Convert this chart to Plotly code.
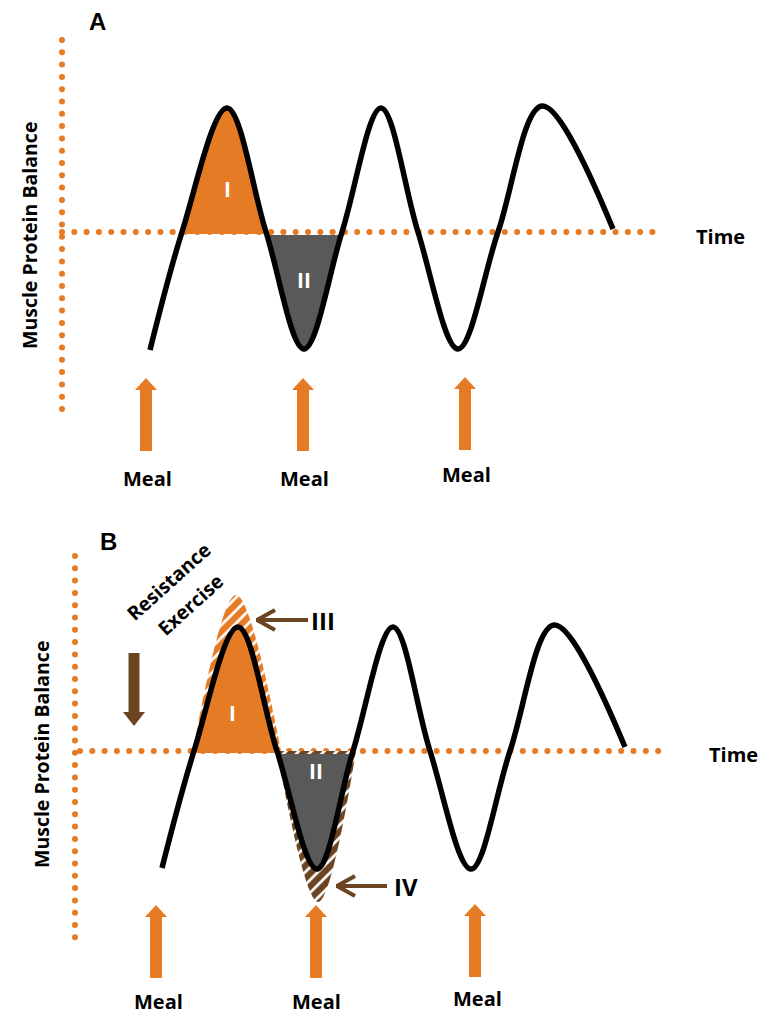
import numpy as np
import plotly.graph_objects as go

# ---------------- Data (diagram units = pixels) ----------------
# Panel A: oscillating muscle protein balance (start, crossings, extrema, end)
a_curve_x = [150, 182, 227, 266, 304, 342, 381, 418, 458, 498, 542, 613]
a_curve_y = [350, 232, 108, 232, 349, 232, 108, 232, 349, 232, 106, 229]
a_baseline = 232

# Panel B: same curve
b_curve_x = [162, 194, 238, 277, 317, 353, 393, 430, 471, 510, 554, 625]
b_curve_y = [868, 751, 627, 751, 869, 751, 627, 751, 869, 751, 625, 747]
b_baseline = 751

# Panel B: amplified responses after resistance exercise (III above, IV below)
b_ex_peak_x = [193, 236, 281]
b_ex_peak_y = [751, 595, 751]
b_ex_trough_x = [277, 318, 356]
b_ex_trough_y = [751, 902, 751]

meal_labels = ["Meal", "Meal", "Meal"]
region_labels = ["I", "II"]
extra_labels = ["III", "IV"]
axis_label = "Muscle Protein Balance"
time_label = "Time"
panel_labels = ["A", "B"]
exercise_label = ["Resistance", "Exercise"]

# ---------------- Styles ----------------
ORANGE = "#E67B25"
GRAY = "#595959"
BROWN = "#6B4421"
BLACK = "#000000"
FONT = "Open Sans"

fig = go.Figure()


def dotted_h(y, x0, x1, step=12.3):
    xs = np.arange(x0, x1 + 0.1, step)
    fig.add_trace(go.Scatter(x=xs, y=np.full(len(xs), y), mode="markers",
                             marker=dict(size=6, color=ORANGE, line=dict(width=0)),
                             hoverinfo="skip"))


def dotted_v(x, y0, y1, step=12.3):
    ys = np.arange(y0, y1 + 0.1, step)
    fig.add_trace(go.Scatter(x=np.full(len(ys), x), y=ys, mode="markers",
                             marker=dict(size=6, color=ORANGE, line=dict(width=0)),
                             hoverinfo="skip"))


def region(xs, ys, color, pattern=None, close_offset=0):
    ys = list(ys)
    ys[0] += close_offset
    ys[-1] += close_offset
    kw = dict(x=list(xs), y=ys, mode="lines", line=dict(width=0, shape="spline"),
              fill="toself", hoverinfo="skip")
    if pattern is None:
        kw["fillcolor"] = color
    else:
        kw["fillcolor"] = "white"
        kw["fillpattern"] = dict(shape="/", fgcolor=color, bgcolor="white",
                                 fgopacity=1, size=9, solidity=0.7)
    fig.add_trace(go.Scatter(**kw))


def curve(xs, ys):
    fig.add_trace(go.Scatter(x=xs, y=ys, mode="lines",
                             line=dict(color=BLACK, width=5.5, shape="spline", smoothing=1),
                             hoverinfo="skip"))


def block_arrow(xc, y_tip, y_tail, color, shaft_w=12, head_w=22, head_len=12):
    d = 1 if y_tail > y_tip else -1
    yh = y_tip + d * head_len
    xs = [xc, xc + head_w / 2, xc + shaft_w / 2, xc + shaft_w / 2,
          xc - shaft_w / 2, xc - shaft_w / 2, xc - head_w / 2, xc]
    ys = [y_tip, yh, yh, y_tail, y_tail, yh, yh, y_tip]
    fig.add_trace(go.Scatter(x=xs, y=ys, mode="lines", line=dict(width=0),
                             fill="toself", fillcolor=color, hoverinfo="skip"))


def line_arrow(x_tail, x_tip, y, color):
    fig.add_trace(go.Scatter(x=[x_tail, x_tip], y=[y, y], mode="lines",
                             line=dict(color=color, width=4), hoverinfo="skip"))
    fig.add_trace(go.Scatter(x=[x_tip + 19, x_tip + 1, x_tip + 19],
                             y=[y - 10, y, y + 10], mode="lines",
                             line=dict(color=color, width=4), hoverinfo="skip"))


# ---------------- Panel A ----------------
dotted_v(62, 40, 420)
dotted_h(a_baseline, 62, 655)
region(a_curve_x[1:4], a_curve_y[1:4], ORANGE, close_offset=2)
region(a_curve_x[3:6], a_curve_y[3:6], GRAY, close_offset=3)
curve(a_curve_x, a_curve_y)

a_meal_x = [146, 303, 465]
a_meal_tip = [378, 378, 377]
a_meal_tail = [451, 451, 450]
for xc, yt, yb in zip(a_meal_x, a_meal_tip, a_meal_tail):
    block_arrow(xc, yt, yb, ORANGE)

# ---------------- Panel B ----------------
dotted_v(75, 556, 940)
dotted_h(b_baseline, 80, 663)
region(b_ex_peak_x, b_ex_peak_y, ORANGE, pattern=True)
region(b_ex_trough_x, b_ex_trough_y, BROWN, pattern=True)
region(b_curve_x[1:4], b_curve_y[1:4], ORANGE, close_offset=2)
region(b_curve_x[3:6], b_curve_y[3:6], GRAY, close_offset=3)
curve(b_curve_x, b_curve_y)

b_meal_x = [156, 316, 475]
b_meal_tip = [905, 905, 904]
b_meal_tail = [978, 978, 977]
for xc, yt, yb in zip(b_meal_x, b_meal_tip, b_meal_tail):
    block_arrow(xc, yt, yb, ORANGE)

block_arrow(134, 726, 653, BROWN, shaft_w=11, head_w=22, head_len=14)
line_arrow(308, 256, 620, BROWN)
line_arrow(387, 336, 886, BROWN)

# ---------------- Text ----------------
ann = []


def text(x, y, s, size, color=BLACK, family=FONT, angle=0):
    ann.append(dict(x=x, y=y, xref="x", yref="y", text="<b>%s</b>" % s, showarrow=False,
                    xanchor="center", yanchor="middle", textangle=angle,
                    font=dict(size=size, color=color, family=family)))


text(97, 21, panel_labels[0], 24, family="Liberation Sans")
text(108, 541, panel_labels[1], 24, family="Liberation Sans")
text(29, 236, axis_label, 19.5, angle=-90)
text(41, 755, axis_label, 19.5, angle=-90)
text(720, 236, time_label, 20)
text(733, 754, time_label, 20)

for (x, y), s in zip([(147, 478), (304, 478), (466, 474)], meal_labels):
    text(x, y, s, 20)
for (x, y), s in zip([(158, 1001), (316, 1001), (477, 998)], meal_labels):
    text(x, y, s, 20)

text(227, 189, region_labels[0], 21, color="white")
text(304, 280, region_labels[1], 21, color="white")
text(232, 713, region_labels[0], 21, color="white")
text(316, 771, region_labels[1], 21, color="white")

text(323, 620, extra_labels[0], 24)
text(406, 886, extra_labels[1], 24)

text(168, 581, exercise_label[0], 19.5, angle=-42)
text(190, 604, exercise_label[1], 19.5, angle=-42)

fig.update_layout(
    width=765, height=1014,
    margin=dict(l=0, r=0, t=0, b=0),
    paper_bgcolor="white", plot_bgcolor="white",
    showlegend=False,
    annotations=ann,
    xaxis=dict(range=[0, 765], visible=False, fixedrange=True),
    yaxis=dict(range=[1014, 0], visible=False, fixedrange=True),
)

fig.write_html("out.html", config={"displayModeBar": False},
               post_script="document.body.style.margin='0';")
